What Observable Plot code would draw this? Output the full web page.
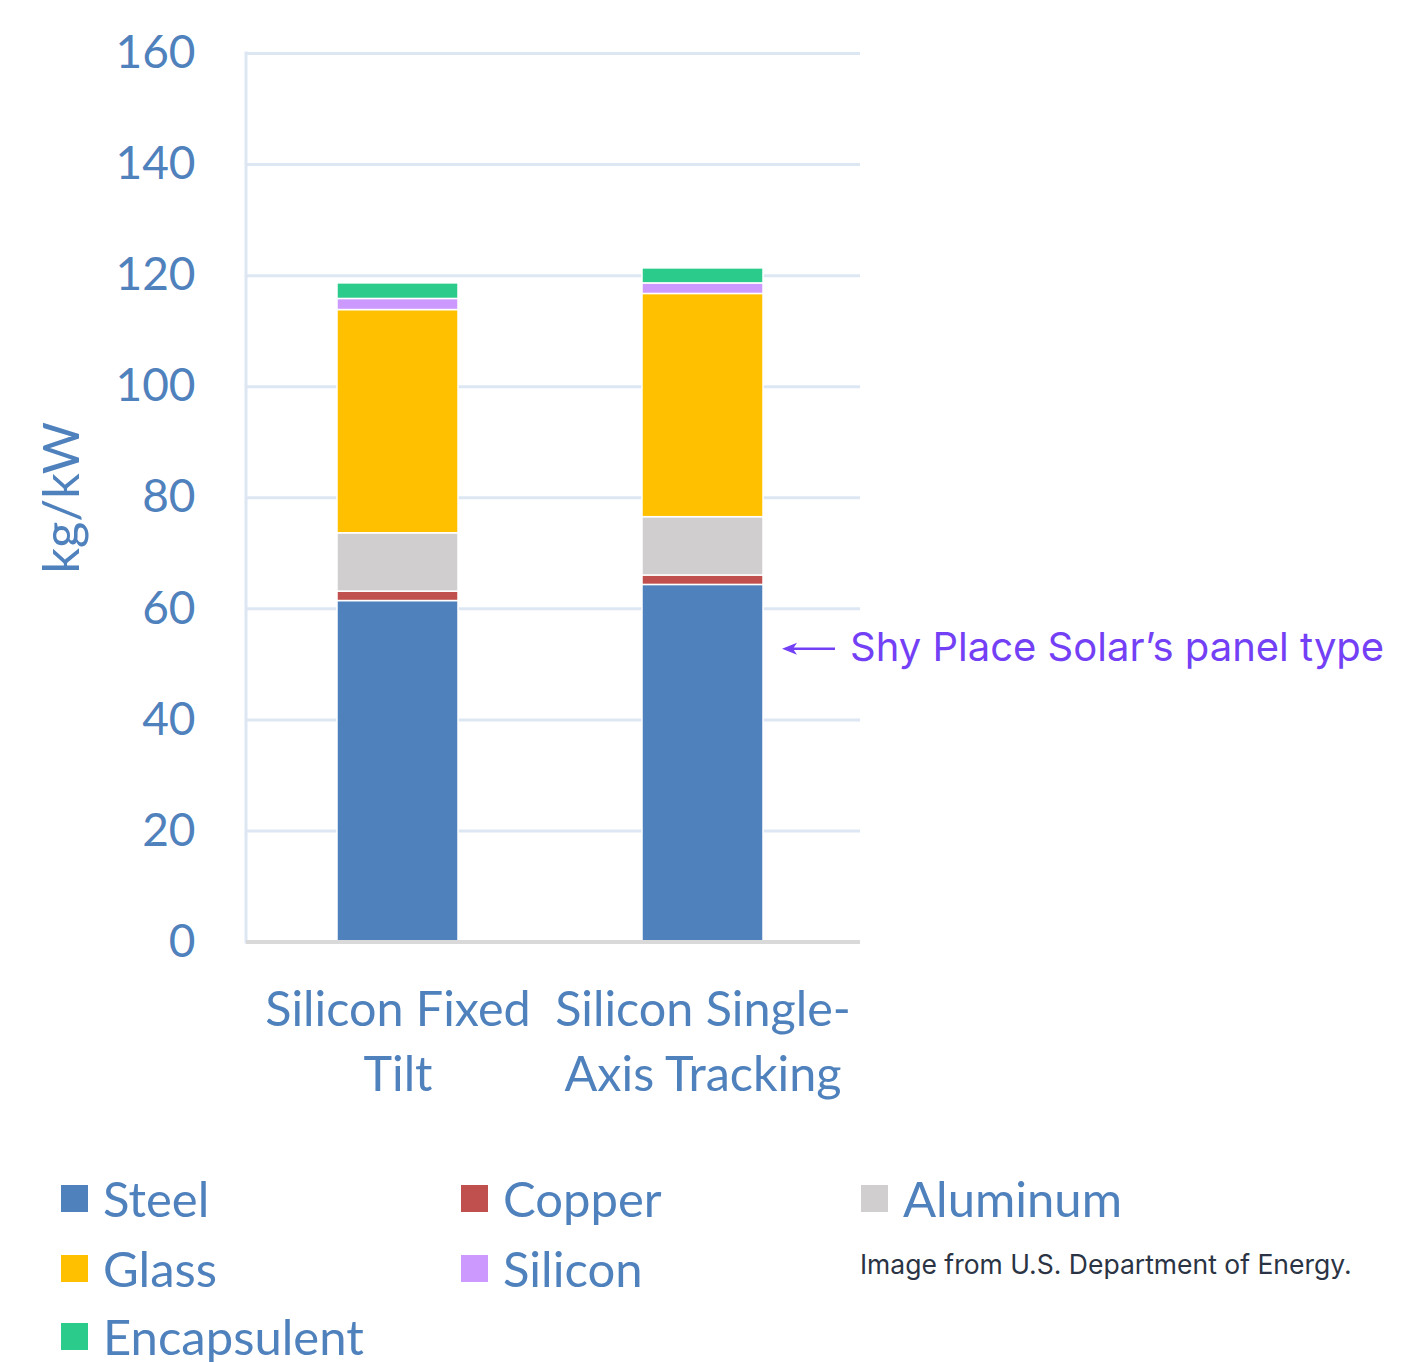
<!DOCTYPE html>
<html>
<head>
<meta charset="utf-8">
<script src="https://cdn.jsdelivr.net/npm/d3@7"></script>
<script src="https://cdn.jsdelivr.net/npm/@observablehq/plot@0.6"></script>
<style>
  html, body { margin: 0; padding: 0; background: white; }
  #wrap { position: relative; width: 1426px; height: 1362px; background: white; overflow: hidden; }
  #chart { position: absolute; left: 0; top: 0; }
  .legend-item { position: absolute; display: flex; align-items: center; font-family: Lato, sans-serif; font-size: 49px; line-height: 46px; height: 46px; color: #4f81bd; white-space: nowrap; }
  .legend-item .sw { width: 27px; height: 27px; margin-right: 15px; flex: none; }
  .legend-item .lt { display: block; line-height: 46px; height: 46px; }
  #caption { position: absolute; left: 860px; top: 1247px; font-family: Inter, sans-serif; font-size: 26.5px; line-height: 34px; color: #2b3444; white-space: nowrap; }
</style>
</head>
<body>
<div id="wrap">
  <div id="chart"></div>
  <div id="legend"></div>
  <div id="caption">Image from U.S. Department of Energy.</div>
</div>
<script>
const categories = ["Silicon Fixed Tilt", "Silicon Single-Axis Tracking"];
const xTickLabels = ["Silicon Fixed\nTilt", "Silicon Single-\nAxis Tracking"];
const materials = ["Steel", "Copper", "Aluminum", "Glass", "Silicon", "Encapsulent"];
const fixedTilt = [61.4, 1.7, 10.5, 40.2, 2.0, 2.8];
const singleAxis = [64.3, 1.7, 10.5, 40.2, 1.9, 2.7];
const colors = ["#4f81bd", "#c0504d", "#d0cece", "#ffc000", "#cc99ff", "#2acb8b"];
const yTicks = [0, 20, 40, 60, 80, 100, 120, 140, 160];
const yLabel = "kg/kW";
const annotationText = "Shy Place Solar\u2019s panel type";
const annotationY = 52.7;

const rows = [];
[fixedTilt, singleAxis].forEach((series, ci) => {
  series.forEach((v, mi) => rows.push({category: categories[ci], material: materials[mi], value: v}));
});

const plot = Plot.plot({
  width: 1426,
  height: 1120,
  marginTop: 53,
  marginBottom: 178.5,
  marginLeft: 246,
  marginRight: 566,
  x: {domain: categories, paddingInner: 0.603, paddingOuter: 0.308, align: 0.4843},
  y: {domain: [0, 160]},
  color: {domain: materials, range: colors},
  style: {fontFamily: "Lato, sans-serif", fontSize: "46px", color: "#4f81bd", background: "white"},
  marks: [
    Plot.ruleY(yTicks.filter(d => d > 0), {stroke: "#dde7f3", strokeWidth: 3}),
    Plot.barY(rows, {x: "category", y: "value", fill: "material", stroke: "white", strokeWidth: 1.5}),
    Plot.ruleY([0], {stroke: "#d9d9d9", strokeWidth: 4}),
    Plot.axisY({ticks: yTicks, tickSize: 0, tickPadding: 51, label: null}),
    Plot.text([yLabel], {frameAnchor: "left", dx: -184, rotate: -90, textAnchor: "middle", fontSize: 50.5, fill: "#4f81bd"}),
    Plot.axisX({tickSize: 0, tickPadding: 38, tickFormat: d => xTickLabels[categories.indexOf(d)], label: null, lineHeight: 1.34, fontSize: 48.5})
  ]
});
document.getElementById("chart").appendChild(plot);

// left axis line and annotation using the plot's scales
const xs = plot.scale("x");
const ys = plot.scale("y");
const svg = d3.select(plot);
const x0 = xs.range[0];
svg.insert("line", ":first-child")
  .attr("x1", x0).attr("x2", x0)
  .attr("y1", ys.apply(160) - 1.5).attr("y2", ys.apply(0) + 2)
  .attr("stroke", "#dde7f3").attr("stroke-width", 3);

const barRight = xs.apply(categories[1]) + xs.bandwidth;
const ay = ys.apply(annotationY);
const purple = "#7340f5";
const g = svg.append("g").attr("text-anchor", "start");
g.append("line")
  .attr("x1", barRight + 24).attr("x2", barRight + 72)
  .attr("y1", ay).attr("y2", ay)
  .attr("stroke", purple).attr("stroke-width", 2.5);
g.append("path")
  .attr("d", `M${barRight + 19},${ay} L${barRight + 34},${ay - 6} L${barRight + 30},${ay} L${barRight + 34},${ay + 6} Z`)
  .attr("fill", purple);
g.append("text")
  .attr("x", barRight + 87).attr("y", ay - 2)
  .attr("dy", "0.35em")
  .attr("text-anchor", "start")
  .attr("font-family", "Inter, sans-serif")
  .attr("font-size", 40)
  .attr("fill", purple)
  .text(annotationText);

// legend
const legendPos = [
  [61, 1198], [461, 1198], [861, 1198],
  [61, 1268], [461, 1268],
  [61, 1336]
];
const legend = document.getElementById("legend");
materials.forEach((m, i) => {
  const item = document.createElement("div");
  item.className = "legend-item";
  item.style.left = legendPos[i][0] + "px";
  item.style.top = (legendPos[i][1] - 23) + "px";
  const sw = document.createElement("div");
  sw.className = "sw";
  sw.style.background = colors[i];
  const t = document.createElement("div");
  t.className = "lt";
  t.textContent = m;
  item.appendChild(sw);
  item.appendChild(t);
  legend.appendChild(item);
});
</script>
</body>
</html>
